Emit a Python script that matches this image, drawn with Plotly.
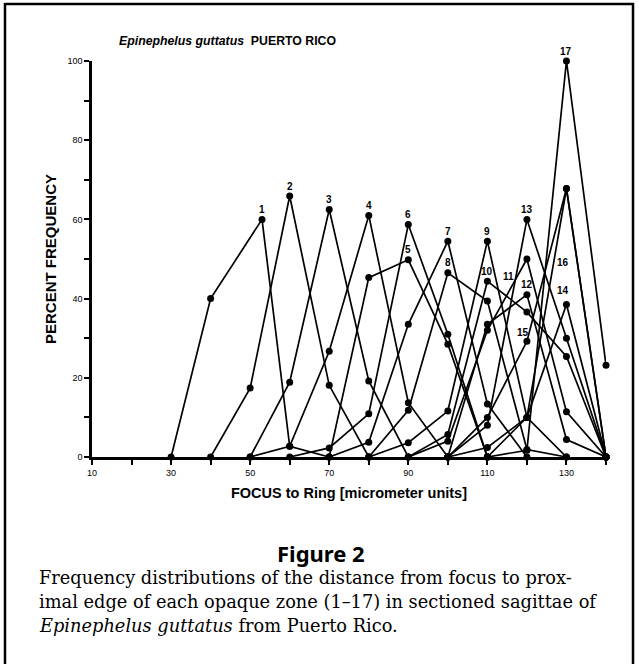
import plotly.graph_objects as go

# ---------------- data ----------------
X1 = [30, 40, 53, 60, 70];            Y1 = [0, 40, 60, 2.7, 0]
X2 = [40, 50, 60, 70, 80];            Y2 = [0, 17.4, 65.9, 18.1, 0]
X3 = [50, 60, 70, 80, 90];            Y3 = [0, 18.9, 62.5, 19.2, 0]
X4 = [50, 60, 70, 80, 90, 100];       Y4 = [0, 2.7, 26.7, 61, 13.7, 0]
X5 = [70, 80, 90, 100, 110];          Y5 = [0, 45.3, 49.8, 28.5, 0]
X6 = [60, 70, 80, 90, 100, 110];      Y6 = [0, 2.3, 10.9, 58.7, 31, 0]
X7 = [70, 80, 90, 100, 110, 120];     Y7 = [0, 3.7, 33.5, 54.5, 13.4, 0]
X8 = [80, 90, 100, 110, 120, 130];    Y8 = [0, 11.8, 46.5, 39.4, 1.9, 0]
X9 = [80, 90, 100, 110, 120, 130];    Y9 = [0, 3.6, 11.6, 54.5, 10, 0]
X10 = [90, 100, 110, 120, 130, 140];  Y10 = [0, 5.7, 44.4, 36.6, 25.4, 0]
X11 = [90, 100, 110, 120, 130, 140];  Y11 = [0, 4, 32, 50, 11.4, 0]
X12 = [100, 110, 120, 130, 140];      Y12 = [0, 33.5, 41, 4.4, 0]
X13 = [100, 110, 120, 130, 140];      Y13 = [0, 8, 60, 30, 0]
X14 = [100, 110, 120, 130, 140];      Y14 = [0, 2.4, 10, 38.5, 0]
X15 = [100, 110, 120, 130, 140];      Y15 = [0, 10, 29.2, 67.8, 0]
X16 = [110, 120, 130, 140];           Y16 = [0, 10, 67.8, 0]
X17 = [110, 120, 130, 140];           Y17 = [0, 1.7, 100, 23.2]

series_labels = ["1", "2", "3", "4", "5", "6", "7", "8", "9", "10",
                 "11", "12", "13", "14", "15", "16", "17"]
label_x = [53, 60, 70, 80, 90, 90, 100, 100, 110, 110, 115.3, 120, 120, 129, 119, 129, 130]
label_y = [60, 65.9, 62.5, 61, 49.8, 58.7, 54.5, 46.5, 54.5, 44.4, 43, 41, 60, 39.5, 28.8, 46.5, 100]

x_tick_vals = [10, 20, 30, 40, 50, 60, 70, 80, 90, 100, 110, 120, 130, 140]
x_tick_text = ["10", "", "30", "", "50", "", "70", "", "90", "", "110", "", "130", ""]
y_tick_vals = [0, 10, 20, 30, 40, 50, 60, 70, 80, 90, 100]
y_tick_text = ["0", "", "20", "", "40", "", "60", "", "80", "", "100"]

title_text = "<i>Epinephelus guttatus</i>  PUERTO RICO"
x_title = "FOCUS to Ring [micrometer units]"
y_title = "PERCENT FREQUENCY"
fig_title = "Figure 2"
caption_lines = [
    "Frequency distributions of the distance from focus to prox-",
    "imal edge of each opaque zone (1\u201317) in sectioned sagittae of",
    "<i>Epinephelus guttatus</i> from Puerto Rico.",
]

# ---------------- layout geometry ----------------
W, H = 639, 664
ML, MR, MT, MB = 92, 33, 61, 207
PW, PH = W - ML - MR, H - MT - MB


def px_x(px):
    return (px - ML) / PW


def px_y(py):
    return (H - MB - py) / PH


fig = go.Figure()
all_series = [(X1, Y1), (X2, Y2), (X3, Y3), (X4, Y4), (X5, Y5), (X6, Y6),
              (X7, Y7), (X8, Y8), (X9, Y9), (X10, Y10), (X11, Y11), (X12, Y12),
              (X13, Y13), (X14, Y14), (X15, Y15), (X16, Y16), (X17, Y17)]
for xs, ys in all_series:
    fig.add_trace(go.Scatter(
        x=xs, y=ys, mode="lines+markers",
        line=dict(color="black", width=1.7),
        marker=dict(color="black", size=7),
        cliponaxis=False, showlegend=False, hoverinfo="skip"))

for t, lx, ly in zip(series_labels, label_x, label_y):
    fig.add_annotation(x=lx, y=ly, text="<b>%s</b>" % t, showarrow=False,
                       xref="x", yref="y", yshift=10,
                       font=dict(family="Liberation Sans", size=10, color="black"))

fig.update_xaxes(range=[10, 140], tickmode="array", tickvals=x_tick_vals,
                 ticktext=x_tick_text, ticks="outside", ticklen=5, tickwidth=1.5,
                 tickcolor="black", showline=True, linecolor="black", linewidth=2.5,
                 showgrid=False, zeroline=False,
                 tickfont=dict(family="Liberation Sans", size=9, color="black"),
                 title=dict(text="<b>%s</b>" % x_title, standoff=12,
                            font=dict(family="Liberation Sans", size=14.5, color="black")))
fig.update_yaxes(range=[0, 100], tickmode="array", tickvals=y_tick_vals,
                 ticktext=y_tick_text, ticks="outside", ticklen=5, tickwidth=1.5,
                 tickcolor="black", showline=True, linecolor="black", linewidth=2.5,
                 showgrid=False, zeroline=False,
                 tickfont=dict(family="Liberation Sans", size=9, color="black"),
                 title=dict(text="<b>%s</b>" % y_title, standoff=8,
                            font=dict(family="Liberation Sans", size=15, color="black")))

# title
fig.add_annotation(xref="paper", yref="paper", x=px_x(117), y=px_y(41),
                   xanchor="left", yanchor="middle", showarrow=False,
                   text="<b>%s</b>" % title_text,
                   font=dict(family="Liberation Sans", size=12.3, color="black"))
# Figure 2
fig.add_annotation(xref="paper", yref="paper", x=px_x(321), y=px_y(553),
                   xanchor="center", yanchor="middle", showarrow=False,
                   text="<b>%s</b>" % fig_title,
                   font=dict(family="Noto Sans", size=22, color="black"))
# caption
for i, line in enumerate(caption_lines):
    fig.add_annotation(xref="paper", yref="paper", x=px_x(37), y=px_y(577 + 24 * i),
                       xanchor="left", yanchor="middle", showarrow=False,
                       text=line,
                       font=dict(family="DejaVu Serif", size=17.8, color="black"))

# frame
for (x0, y0, x1, y1) in [(5, 3, 5, 664), (5, 4, 634, 4), (633, 3, 633, 664)]:
    fig.add_shape(type="line", xref="paper", yref="paper",
                  x0=px_x(x0), y0=px_y(y0), x1=px_x(x1), y1=px_y(y1),
                  line=dict(color="black", width=2.5))

fig.update_layout(width=W, height=H, margin=dict(l=ML, r=MR, t=MT, b=MB),
                  paper_bgcolor="white", plot_bgcolor="white")

fig.write_html("out.html")
